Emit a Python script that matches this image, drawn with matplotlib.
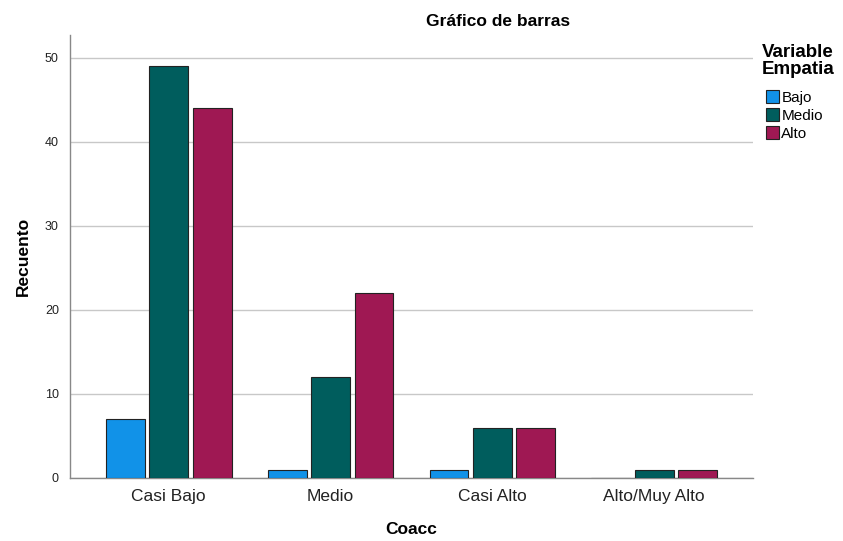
import numpy as np
import matplotlib
matplotlib.use('Agg')
import matplotlib.pyplot as plt
import matplotlib.patches as mpatches

plt.rcParams['font.family'] = ['Liberation Sans', 'DejaVu Sans']

# Datos
categorias = ['Casi Bajo', 'Medio', 'Casi Alto', 'Alto/Muy Alto']
bajo = [7, 1, 1, 0]
medio = [49, 12, 6, 1]
alto = [44, 22, 6, 1]
series = ['Bajo', 'Medio', 'Alto']
colores = ['#1192e8', '#005d5d', '#9f1853']

fig = plt.figure(figsize=(8.43, 5.41), dpi=100)
ax = fig.add_axes([70 / 843, 1 - 478 / 541, 683 / 843, 443 / 541])

x = np.arange(len(categorias))
ancho = 0.24
desp = 0.268
for i, (vals, lab, col) in enumerate(zip([bajo, medio, alto], series, colores)):
    ax.bar(x + (i - 1) * desp, vals, width=ancho, color=col,
           edgecolor='#222222', linewidth=0.8, label=lab, zorder=3)

ax.set_xlim(-0.61, 3.61)
ax.set_ylim(0, 52.7)
ax.set_yticks([0, 10, 20, 30, 40, 50])
ax.set_xticks(x)
ax.set_xticklabels(categorias, fontsize=12.5, color='#222222')
ax.tick_params(axis='y', labelsize=9, length=0, pad=8, colors='#222222')
ax.tick_params(axis='x', length=0, pad=8)
ax.grid(axis='y', color='#c8c8c8', linewidth=1, zorder=0)

for s in ['top', 'right']:
    ax.spines[s].set_visible(False)
for s in ['left', 'bottom']:
    ax.spines[s].set_color('#888888')
    ax.spines[s].set_linewidth(1)

ax.set_xlabel('Coacc', fontsize=12.5, fontweight='bold', labelpad=13)
ax.set_ylabel('Recuento', fontsize=12.5, fontweight='bold', labelpad=10)

fig.text(498 / 843, 1 - 21 / 541, 'Gráfico de barras', fontsize=12.5,
         fontweight='bold', ha='center', va='center')

# Leyenda
fig.text(762 / 843, 1 - 61 / 541, 'Variable\nEmpatia', fontsize=13.5,
         fontweight='bold', ha='left', va='center', linespacing=0.95)
handles = [mpatches.Patch(facecolor=c, edgecolor='#222222', linewidth=0.8, label=l)
           for c, l in zip(colores, series)]
fig.legend(handles=handles, loc='upper left', bbox_to_anchor=(766 / 843, 1 - 90 / 541),
           frameon=False, fontsize=11, handlelength=0.85, handleheight=0.95,
           handletextpad=0.15, labelspacing=0.2, borderpad=0, borderaxespad=0)

fig.savefig('out.png', dpi=100, facecolor='white')
